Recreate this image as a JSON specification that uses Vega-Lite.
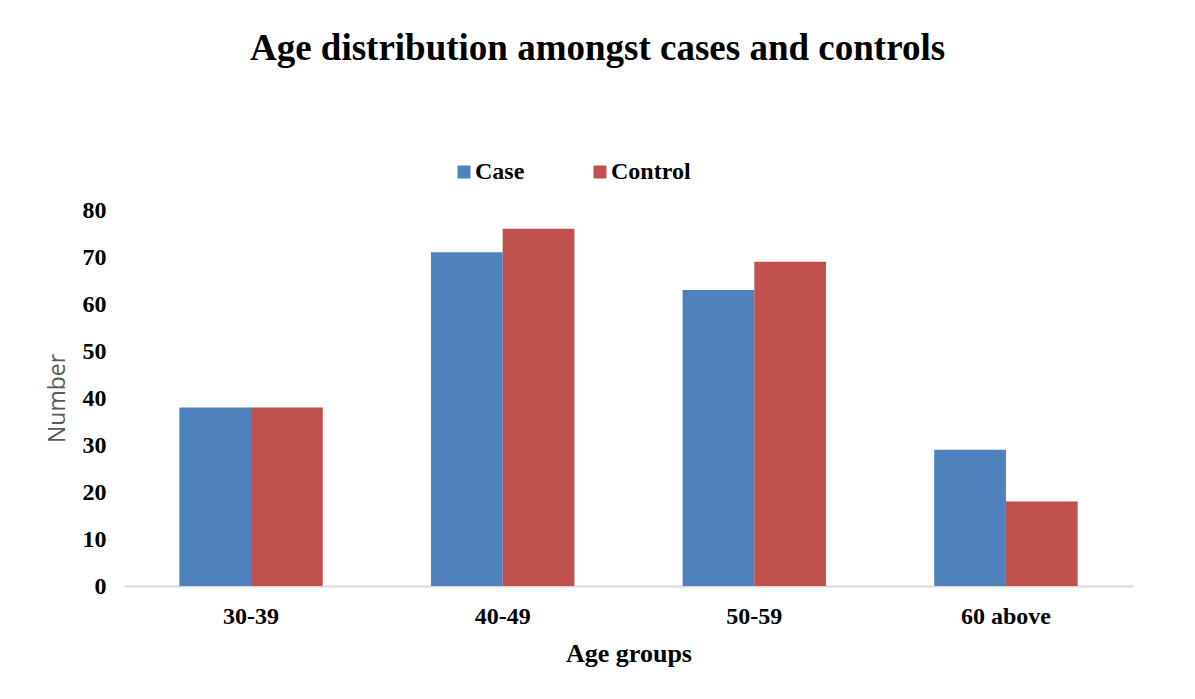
{
  "$schema": "https://vega.github.io/schema/vega-lite/v6.json",
  "width": 1009,
  "height": 376,
  "autosize": {"type": "none"},
  "padding": {"left": 124, "top": 210, "right": 62, "bottom": 113},
  "background": "white",
  "title": {
    "text": "Age distribution amongst cases and controls",
    "font": "Liberation Serif",
    "fontSize": 37,
    "fontWeight": "bold",
    "color": "#000000",
    "anchor": "middle",
    "dx": -31,
    "offset": 92
  },
  "data": {
    "values": [
      {"age": "30-39", "group": "Case", "n": 38},
      {"age": "30-39", "group": "Control", "n": 38},
      {"age": "40-49", "group": "Case", "n": 71},
      {"age": "40-49", "group": "Control", "n": 76},
      {"age": "50-59", "group": "Case", "n": 63},
      {"age": "50-59", "group": "Control", "n": 69},
      {"age": "60 above", "group": "Case", "n": 29},
      {"age": "60 above", "group": "Control", "n": 18}
    ]
  },
  "mark": {"type": "bar"},
  "encoding": {
    "x": {
      "field": "age",
      "type": "nominal",
      "sort": null,
      "scale": {"paddingInner": 0.43, "paddingOuter": 0.22},
      "axis": {
        "title": "Age groups",
        "labelAngle": 0,
        "labelFont": "Liberation Serif",
        "labelFontSize": 24,
        "labelFontWeight": "bold",
        "labelColor": "#000000",
        "labelPadding": 18,
        "ticks": false,
        "domainColor": "#d9d9d9",
        "domainWidth": 2,
        "titleFont": "Liberation Serif",
        "titleFontSize": 26,
        "titleFontWeight": "bold",
        "titleColor": "#000000",
        "titlePadding": 12
      }
    },
    "xOffset": {"field": "group", "type": "nominal", "sort": ["Case", "Control"]},
    "y": {
      "field": "n",
      "type": "quantitative",
      "scale": {"domain": [0, 80]},
      "axis": {
        "title": "Number",
        "values": [0, 10, 20, 30, 40, 50, 60, 70, 80],
        "grid": false,
        "domain": false,
        "ticks": false,
        "labelFont": "Liberation Serif",
        "labelFontSize": 24,
        "labelFontWeight": "bold",
        "labelColor": "#000000",
        "labelPadding": 18,
        "titleFont": "Open Sans",
        "titleFontSize": 23,
        "titleFontWeight": "normal",
        "titleColor": "#595959",
        "titlePadding": 13
      }
    },
    "color": {
      "field": "group",
      "type": "nominal",
      "sort": ["Case", "Control"],
      "scale": {"domain": ["Case", "Control"], "range": ["#4F81BD", "#C0504D"]},
      "legend": {
        "title": null,
        "orient": "none",
        "direction": "horizontal",
        "legendX": 328,
        "legendY": -50,
        "symbolType": "square",
        "symbolSize": 169,
        "symbolStrokeWidth": 0,
        "symbolOpacity": 1,
        "labelFont": "Liberation Serif",
        "labelFontSize": 24,
        "labelFontWeight": "bold",
        "labelColor": "#000000",
        "labelOffset": -1,
        "columnPadding": 63
      }
    }
  },
  "config": {
    "view": {"stroke": null}
  }
}
